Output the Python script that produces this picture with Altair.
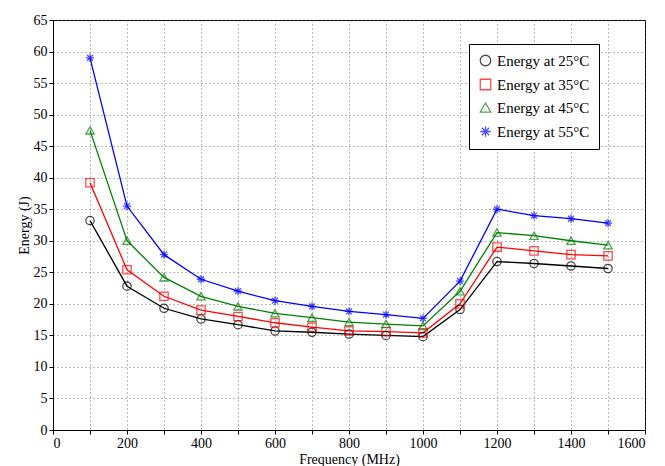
import altair as alt
import pandas as pd

freq = [100,200,300,400,500,600,700,800,900,1000,1100,1200,1300,1400,1500]
e25 = [33.2,22.8,19.3,17.6,16.7,15.7,15.5,15.2,15.0,14.8,19.1,26.7,26.4,26.0,25.6]
e35 = [39.2,25.4,21.2,19.0,18.0,17.0,16.3,15.7,15.6,15.4,20.0,29.0,28.4,27.8,27.6]
e45 = [47.5,30.0,24.2,21.2,19.6,18.5,17.8,17.1,16.8,16.5,22.0,31.3,30.8,30.0,29.3]
e55 = [59.0,35.5,27.8,23.9,22.0,20.5,19.6,18.8,18.3,17.7,23.6,35.0,34.0,33.5,32.8]
series = ["Energy at 25°C","Energy at 35°C","Energy at 45°C","Energy at 55°C"]
colors = ["black","#ff0000","#008000","#0000ff"]
star = "M-1,0L1,0M0,-1L0,1M-0.7,-0.7L0.7,0.7M-0.7,0.7L0.7,-0.7"
shapes = ["circle","square","triangle-up",star]

rows = []
for name, vals in zip(series,[e25,e35,e45,e55]):
    for f,v in zip(freq,vals):
        rows.append({"f":f,"e":v,"s":name})
df = pd.DataFrame(rows)

SERIF = "Liberation Serif"
x = alt.X("f:Q", title="Frequency (MHz)", scale=alt.Scale(domain=[0,1600], nice=False),
          axis=alt.Axis(values=list(range(0,1700,100)), format="d"))
y = alt.Y("e:Q", title="Energy (J)", scale=alt.Scale(domain=[0,65], nice=False),
          axis=alt.Axis(values=list(range(0,70,5))))
col = alt.Color("s:N", scale=alt.Scale(domain=series, range=colors), title=None)
shp = alt.Shape("s:N", scale=alt.Scale(domain=series, range=shapes), title=None)

lines = alt.Chart(df).mark_line(strokeWidth=1.3).encode(x=x, y=y, color=col)
pts = alt.Chart(df).mark_point(filled=False, size=70, strokeWidth=1.3).encode(x=x, y=y, color=col, shape=shp)

chart = (lines + pts).properties(width=592, height=410, padding={"left":9,"top":5,"right":5,"bottom":5}).configure(
    font=SERIF, background="white"
).configure_view(stroke="black", strokeWidth=1).configure_axis(
    labelFont=SERIF, titleFont=SERIF, labelFontSize=14, titleFontSize=14,
    titleFontWeight="normal", labelColor="black", titleColor="black",
    gridDash=[1,3], gridColor="#555", gridOpacity=0.8, domainColor="black", tickColor="black", tickSize=4,
    titlePadding=2
).configure_legend(
    orient="none", legendX=416, legendY=24, strokeColor="black", fillColor="white", padding=9,
    labelFont=SERIF, labelFontSize=15, labelColor="black", symbolSize=110, symbolStrokeWidth=1.3,
    rowPadding=7, labelLimit=300
)
chart.save("out.html", embed_options={"renderer": "svg", "actions": False})
